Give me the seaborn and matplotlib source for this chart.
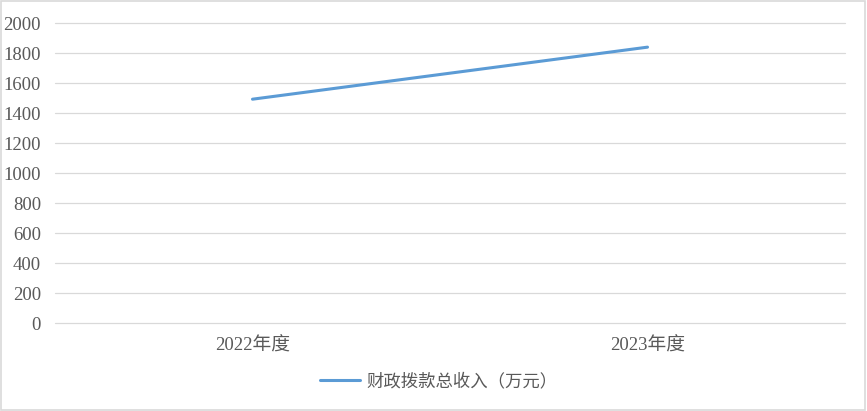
import pandas as pd
import matplotlib.pyplot as plt
import seaborn as sns

plt.switch_backend('Agg')

# dados
anos = ['2022年度', '2023年度']
receita = [1492, 1839]
nome_serie = '财政拨款总收入（万元）'

df = pd.DataFrame({'ano': anos, 'valor': receita})

sns.set_style('white')
plt.rcParams['font.family'] = ['Liberation Serif', 'Noto Sans CJK SC', 'DejaVu Sans']

fig = plt.figure(figsize=(8.67, 4.11), dpi=100)
ax = fig.add_axes([55 / 867, 1 - 323 / 411, 790 / 867, 300 / 411])

sns.lineplot(data=df, x='ano', y='valor', ax=ax, color='#5b9bd5', linewidth=2.2,
             label=nome_serie, sort=False)

ax.set_xlim(-0.5, 1.5)
ax.set_ylim(0, 2000)
ax.set_yticks(range(0, 2001, 200))
ax.grid(axis='y', color='#d9d9d9', linewidth=0.9)
ax.grid(axis='x', visible=False)
for gl in ax.get_ygridlines():
    gl.set_clip_on(False)
for s in ax.spines.values():
    s.set_visible(False)
ax.set_xlabel('')
ax.set_ylabel('')
ax.tick_params(axis='both', length=0, colors='#595959', labelsize=13.5)
ax.tick_params(axis='x', pad=10)
ax.tick_params(axis='y', pad=10)

leg = ax.legend(loc='center', bbox_to_anchor=(0.486, -0.195), frameon=False,
                prop={'family': ['Noto Sans CJK SC'], 'size': 12.5}, handlelength=2.3,
                handletextpad=0.4)
for t in leg.get_texts():
    t.set_color('#595959')

# borda em volta da figura
fig.patches.append(plt.Rectangle((0.001, 0.002), 0.997, 0.995, transform=fig.transFigure,
                                 fill=False, edgecolor='#d9d9d9', linewidth=1.2))

plt.savefig('out.png', dpi=100)
plt.close()
